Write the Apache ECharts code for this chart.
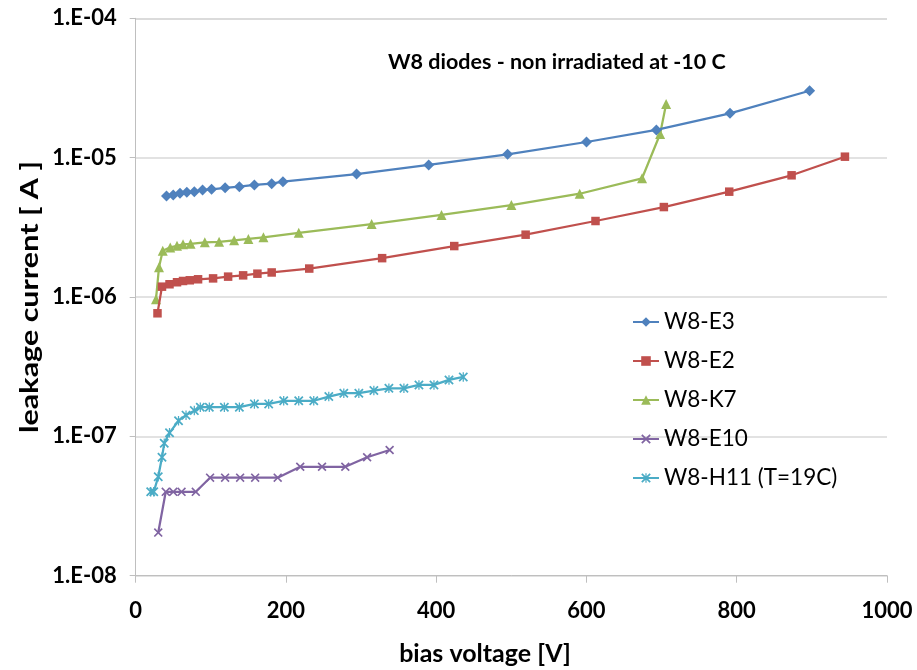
<!DOCTYPE html>
<html>
<head>
<meta charset="utf-8">
<script src="https://cdn.jsdelivr.net/npm/echarts@6/dist/echarts.min.js"></script>
<style>
html,body{margin:0;padding:0;background:#fff;}
#c{width:917px;height:670px;}
</style>
</head>
<body>
<div id="c"></div>
<script>
const chartTitle = 'W8 diodes - non irradiated at -10 C';
const xTitle = 'bias voltage [V]';
const yTitle = 'leakage current [ A ]';
const seriesNames = ['W8-E3', 'W8-E2', 'W8-K7', 'W8-E10', 'W8-H11 (T=19C)'];
const xTicks = [0, 200, 400, 600, 800, 1000];
const yTicks = [1e-8, 1e-7, 1e-6, 1e-5, 1e-4];

const e3V = [41, 50, 59, 68, 78, 89, 101, 119, 138, 158, 181, 196, 294, 390, 495, 600, 693, 791, 897];
const e3I = [5.31e-6, 5.39e-6, 5.55e-6, 5.64e-6, 5.70e-6, 5.86e-6, 5.93e-6, 6.08e-6, 6.19e-6, 6.37e-6, 6.50e-6, 6.72e-6, 7.63e-6, 8.86e-6, 1.057e-5, 1.295e-5, 1.58e-5, 2.08e-5, 3.02e-5];

const e2V = [29, 35, 45, 55, 63, 72, 83, 103, 123, 143, 162, 181, 231, 328, 424, 519, 612, 703, 790, 873, 944];
const e2I = [7.64e-7, 1.186e-6, 1.234e-6, 1.276e-6, 1.303e-6, 1.318e-6, 1.34e-6, 1.36e-6, 1.40e-6, 1.43e-6, 1.47e-6, 1.50e-6, 1.60e-6, 1.90e-6, 2.32e-6, 2.80e-6, 3.51e-6, 4.42e-6, 5.70e-6, 7.47e-6, 1.016e-5];

const k7V = [27, 31, 36, 46, 55, 63, 73, 92, 111, 131, 150, 170, 217, 314, 407, 500, 591, 674, 698, 706];
const k7I = [9.63e-7, 1.634e-6, 2.15e-6, 2.27e-6, 2.33e-6, 2.39e-6, 2.41e-6, 2.47e-6, 2.49e-6, 2.55e-6, 2.61e-6, 2.68e-6, 2.89e-6, 3.34e-6, 3.88e-6, 4.57e-6, 5.51e-6, 7.11e-6, 1.479e-5, 2.43e-5];

const e10V = [30, 40, 50, 61, 80, 99, 119, 139, 159, 189, 219, 248, 279, 308, 338];
const e10I = [2.04e-8, 4.0e-8, 4.0e-8, 4.0e-8, 4.0e-8, 5.05e-8, 5.05e-8, 5.05e-8, 5.05e-8, 5.05e-8, 6.05e-8, 6.05e-8, 6.05e-8, 7.08e-8, 7.98e-8];

const h11V = [20, 24, 30, 35, 38, 45, 57, 67, 78, 86, 98, 118, 138, 158, 177, 197, 217, 237, 257, 277, 297, 317, 337, 357, 377, 397, 417, 436];
const h11I = [4.0e-8, 4.0e-8, 5.13e-8, 7.08e-8, 8.91e-8, 1.06e-7, 1.295e-7, 1.42e-7, 1.53e-7, 1.62e-7, 1.62e-7, 1.62e-7, 1.62e-7, 1.71e-7, 1.71e-7, 1.80e-7, 1.80e-7, 1.80e-7, 1.93e-7, 2.04e-7, 2.04e-7, 2.13e-7, 2.21e-7, 2.21e-7, 2.34e-7, 2.34e-7, 2.54e-7, 2.67e-7];

const colors = ['#4F81BD', '#C0504D', '#9BBB59', '#8064A2', '#4BACC6'];
const FONT = 'Lato, "Open Sans", sans-serif';

function pairs(xs, ys) { return xs.map((x, i) => [x, ys[i]]); }

const crossPath = 'path://M0,1.3 L1.3,0 L5,3.7 L8.7,0 L10,1.3 L6.3,5 L10,8.7 L8.7,10 L5,6.3 L1.3,10 L0,8.7 L3.7,5 Z';
const starPath = 'path://M0,1.3 L1.3,0 L5,3.7 L8.7,0 L10,1.3 L6.3,5 L10,8.7 L8.7,10 L5,6.3 L1.3,10 L0,8.7 L3.7,5 Z M4.35,0 L5.65,0 L5.65,10 L4.35,10 Z';

const symbols = ['diamond', 'rect', 'triangle', crossPath, starPath];
const symbolSizes = [11, 8.5, 10, 9, 9.5];
const datasets = [pairs(e3V, e3I), pairs(e2V, e2I), pairs(k7V, k7I), pairs(e10V, e10I), pairs(h11V, h11I)];

const chart = echarts.init(document.getElementById('c'));
chart.setOption({
  animation: false,
  backgroundColor: '#ffffff',
  color: colors,
  grid: { left: 135.7, right: 30, top: 18.3, bottom: 94.3, containLabel: false },
  graphic: [
    { type: 'text', x: 388, y: 62,
      style: { text: chartTitle, font: 'bold 21.5px ' + FONT, fill: '#000', textAlign: 'left', textVerticalAlign: 'middle' } },
    { type: 'text', x: 485, y: 654,
      style: { text: xTitle, font: 'bold 25px ' + FONT, fill: '#000', textAlign: 'center', textVerticalAlign: 'middle' } },
    { type: 'text', x: 30, y: 297, rotation: Math.PI / 2, scaleX: 1.22,
      style: { text: yTitle, font: 'bold 25px ' + FONT, fill: '#000', textAlign: 'center', textVerticalAlign: 'middle' } }
  ],
  legend: {
    orient: 'vertical', left: 627, top: 305,
    itemWidth: 26, itemHeight: 12, itemGap: 15,
    textStyle: { fontFamily: FONT, fontSize: 22.5, color: '#000', lineHeight: 24 },
    data: seriesNames
  },
  xAxis: {
    type: 'value', min: 0, max: 1000, interval: 200,
    axisLine: { show: true, lineStyle: { color: '#bfbfbf', width: 1 } },
    axisTick: { show: true, inside: false, length: 7, lineStyle: { color: '#bfbfbf' } },
    splitLine: { show: false },
    axisLabel: { margin: 24, fontFamily: FONT, fontSize: 22, fontWeight: 'bold', color: '#000',
      formatter: v => xTicks.includes(v) ? String(v) : '' }
  },
  yAxis: {
    type: 'log', logBase: 10, min: yTicks[0], max: yTicks[yTicks.length - 1],
    axisLine: { show: true, lineStyle: { color: '#bfbfbf', width: 1 } },
    axisTick: { show: true, inside: false, length: 6, lineStyle: { color: '#bfbfbf' } },
    splitLine: { show: true, lineStyle: { color: '#d9d9d9', width: 1.5 } },
    minorTick: { show: false },
    axisLabel: { margin: 19, fontFamily: FONT, fontSize: 22, fontWeight: 'bold', color: '#000',
      formatter: v => {
        const e = Math.round(Math.log10(v));
        const a = Math.abs(e);
        return '1.E' + (e < 0 ? '-' : '+') + (a < 10 ? '0' + a : a);
      } }
  },
  series: seriesNames.map((n, i) => ({
    name: n, type: 'line', data: datasets[i],
    symbol: symbols[i], symbolSize: symbolSizes[i],
    showAllSymbol: true,
    lineStyle: { width: 2.25, color: colors[i] },
    itemStyle: { color: colors[i] },
    z: 10 - i
  }))
});
</script>
</body>
</html>
